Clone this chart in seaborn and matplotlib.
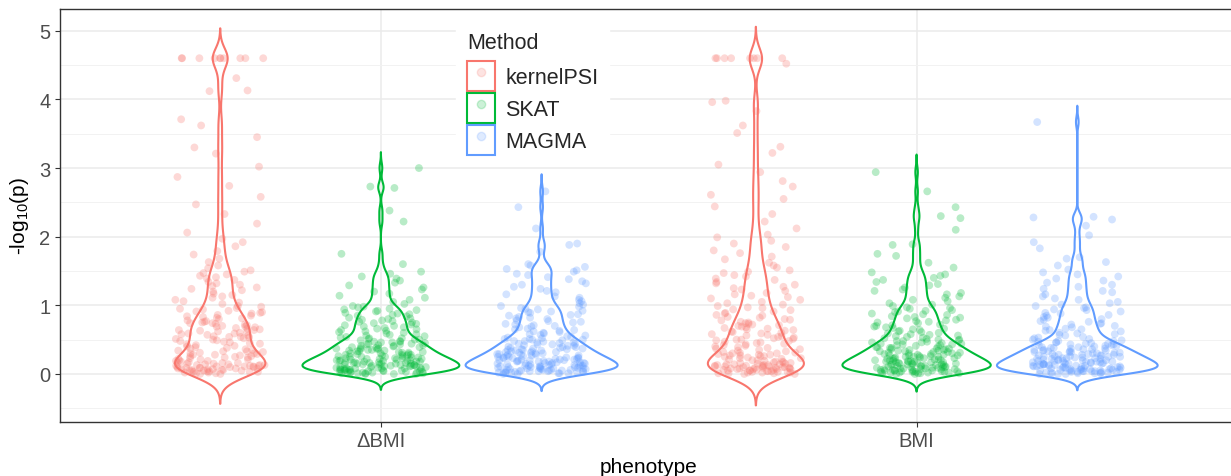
import numpy as np
import pandas as pd
import seaborn as sns
import matplotlib.pyplot as plt
from matplotlib.patches import Patch
from matplotlib.lines import Line2D
from matplotlib.legend_handler import HandlerTuple

phenotypes = ['ΔBMI', 'BMI']
methods = ['kernelPSI', 'SKAT', 'MAGMA']
palette = {'kernelPSI': '#F8766D', 'SKAT': '#00BA38', 'MAGMA': '#619CFF'}

# -log10(p) per gene (kernelPSI capped at 4.6)
kpsi_dbmi = [
    4.6, 4.6, 4.6, 4.6, 4.6, 4.6, 4.6, 4.6, 4.6, 4.6,
    4.31, 4.13, 4.12, 3.71, 3.62, 3.45, 3.30, 3.21, 3.02, 2.87, 2.74, 2.58, 2.47, 2.33, 2.19, 2.06,
    1.97, 1.92, 1.86, 1.79, 1.74, 1.68, 1.63, 1.58, 1.54, 1.51,
    1.49, 1.47, 1.45, 1.43, 1.41, 1.39, 1.37, 1.34, 1.32, 1.30, 1.28, 1.26, 1.24, 1.22, 1.20, 1.17,
    1.15, 1.13, 1.11, 1.08, 1.06, 1.04, 1.02,
    0.99, 0.98, 0.96, 0.95, 0.94, 0.92, 0.91, 0.90, 0.89, 0.88, 0.86, 0.85, 0.84, 0.83, 0.82, 0.81,
    0.80, 0.78, 0.77, 0.76,
    0.75, 0.74, 0.74, 0.73, 0.72, 0.71, 0.70, 0.69, 0.69, 0.68, 0.67, 0.66, 0.65, 0.64, 0.64, 0.63,
    0.62, 0.61, 0.60, 0.59, 0.59, 0.58, 0.57, 0.56, 0.55, 0.54, 0.54, 0.53, 0.52, 0.51,
    0.50, 0.49, 0.48, 0.47, 0.46, 0.45, 0.44, 0.43, 0.42, 0.41, 0.40, 0.39, 0.38, 0.37, 0.36, 0.35,
    0.34, 0.33, 0.33, 0.32, 0.31, 0.30, 0.30, 0.29, 0.28, 0.28, 0.27, 0.26, 0.26,
    0.25, 0.24, 0.24, 0.23, 0.22, 0.21, 0.21, 0.20, 0.19, 0.19, 0.18, 0.17, 0.17, 0.16, 0.16, 0.15,
    0.15, 0.14, 0.14, 0.13, 0.13, 0.13, 0.12, 0.12, 0.12, 0.11, 0.11, 0.11, 0.10, 0.10, 0.10, 0.09,
    0.09, 0.09, 0.08, 0.08, 0.08, 0.07, 0.07, 0.07, 0.06, 0.06, 0.06, 0.05, 0.05, 0.05, 0.04, 0.04,
    0.04, 0.03, 0.03, 0.03, 0.02, 0.02, 0.01, 0.01, 0.00, 0.00,
]
skat_dbmi = [
    3.00, 2.73, 2.71, 2.38, 2.22, 1.75, 1.60,
    1.49, 1.46, 1.42, 1.39, 1.36, 1.33, 1.29, 1.26, 1.23, 1.20, 1.17, 1.14, 1.11, 1.08, 1.05, 1.02,
    0.99, 0.98, 0.97, 0.95, 0.94, 0.93, 0.92, 0.91, 0.89, 0.88, 0.87, 0.86, 0.85,
    0.84, 0.82, 0.81, 0.80, 0.79, 0.78, 0.77, 0.76, 0.75, 0.74, 0.73, 0.72, 0.71, 0.70,
    0.69, 0.68, 0.67, 0.66, 0.65, 0.64, 0.63, 0.62, 0.61, 0.60, 0.59, 0.58, 0.57, 0.56, 0.55,
    0.54, 0.53, 0.52, 0.52, 0.51, 0.50,
    0.00, 0.00, 0.00, 0.01, 0.01, 0.01, 0.01, 0.02, 0.02, 0.02, 0.02, 0.03, 0.03, 0.03, 0.03,
    0.04, 0.04, 0.04, 0.04, 0.05, 0.05,
    0.05, 0.06, 0.06, 0.06, 0.06, 0.07, 0.07, 0.07, 0.08, 0.08, 0.08, 0.08, 0.09, 0.09, 0.09,
    0.10, 0.10, 0.10,
    0.11, 0.11, 0.11, 0.12, 0.12, 0.12, 0.13, 0.13, 0.13, 0.14, 0.14, 0.14, 0.15, 0.15, 0.15, 0.15,
    0.16, 0.16, 0.16, 0.17, 0.17, 0.17, 0.18, 0.18, 0.18, 0.19, 0.19, 0.19, 0.20, 0.20, 0.20,
    0.21, 0.21, 0.22, 0.22, 0.22, 0.23, 0.23, 0.23, 0.24, 0.24, 0.25, 0.25, 0.25,
    0.26, 0.26, 0.27, 0.27, 0.28, 0.28, 0.28, 0.29, 0.29, 0.30, 0.30,
    0.31, 0.31, 0.32, 0.32, 0.33, 0.33, 0.34, 0.34, 0.35, 0.35,
    0.36, 0.36, 0.37, 0.37, 0.38, 0.38, 0.39, 0.39, 0.40,
    0.41, 0.41, 0.42, 0.42, 0.43, 0.43, 0.44, 0.44, 0.45,
    0.46, 0.46, 0.47, 0.47, 0.48, 0.49, 0.50,
]
magma_dbmi = [
    2.66, 2.43, 2.12, 1.90, 1.88, 1.78, 1.60, 1.58, 1.56, 1.53, 1.51,
    1.49, 1.46, 1.44, 1.41, 1.38, 1.35, 1.32, 1.30, 1.27, 1.24, 1.21, 1.19, 1.16, 1.13, 1.11,
    1.08, 1.06, 1.03, 1.01,
    0.99, 0.98, 0.96, 0.95, 0.94, 0.92, 0.91, 0.90, 0.89, 0.87, 0.86, 0.85, 0.83, 0.82, 0.81, 0.80,
    0.78, 0.77, 0.76, 0.75, 0.73, 0.72, 0.71, 0.70, 0.69, 0.68, 0.66,
    0.65, 0.64, 0.63, 0.62, 0.61, 0.60, 0.59, 0.58, 0.57, 0.56, 0.55, 0.54, 0.53, 0.52, 0.51, 0.51, 0.50,
    0.00, 0.00, 0.01, 0.01, 0.01, 0.02, 0.02, 0.02, 0.02, 0.03, 0.03, 0.03, 0.03, 0.04, 0.04,
    0.04, 0.04, 0.04, 0.05, 0.05,
    0.05, 0.06, 0.06, 0.06, 0.06, 0.07, 0.07, 0.07, 0.08, 0.08, 0.08, 0.08, 0.09, 0.09, 0.09,
    0.10, 0.10, 0.10,
    0.11, 0.11, 0.11, 0.12, 0.12, 0.12, 0.12, 0.13, 0.13, 0.13, 0.14, 0.14, 0.14, 0.15, 0.15, 0.15,
    0.16, 0.16, 0.16, 0.17, 0.17, 0.18, 0.18, 0.18, 0.19, 0.19, 0.19, 0.20, 0.20, 0.20,
    0.21, 0.21, 0.21, 0.22, 0.22, 0.23, 0.23, 0.23, 0.24, 0.24, 0.24, 0.25, 0.25,
    0.26, 0.26, 0.27, 0.27, 0.28, 0.28, 0.28, 0.29, 0.29, 0.30, 0.30,
    0.31, 0.31, 0.32, 0.32, 0.33, 0.33, 0.34, 0.34, 0.35, 0.35,
    0.36, 0.36, 0.37, 0.37, 0.38, 0.38, 0.39, 0.39, 0.40,
    0.41, 0.41, 0.42, 0.43, 0.43, 0.44, 0.44, 0.45,
    0.46, 0.46, 0.47, 0.48, 0.48, 0.49, 0.50,
]
kpsi_bmi = [
    4.6, 4.6, 4.6, 4.6, 4.6, 4.6, 4.6, 4.6,
    4.52, 3.98, 3.96, 3.83, 3.62, 3.51, 3.31, 3.22, 3.05, 2.94, 2.81, 2.73, 2.61, 2.55, 2.44, 2.33,
    2.22, 2.12, 2.03,
    1.99, 1.94, 1.90, 1.85, 1.80, 1.76, 1.71, 1.67, 1.62, 1.58, 1.55, 1.51,
    1.49, 1.47, 1.44, 1.42, 1.39, 1.37, 1.34, 1.32, 1.30, 1.27, 1.25, 1.23, 1.21, 1.18, 1.16, 1.14,
    1.12, 1.10, 1.08, 1.05, 1.03, 1.01,
    0.99, 0.97, 0.96, 0.94, 0.93, 0.91, 0.89, 0.88, 0.86, 0.85, 0.83, 0.82, 0.80, 0.79, 0.78, 0.76,
    0.75, 0.74, 0.73, 0.72, 0.71, 0.70, 0.69, 0.68, 0.67, 0.66, 0.65, 0.64, 0.63, 0.62, 0.61, 0.60,
    0.59, 0.58, 0.57, 0.56, 0.55, 0.54, 0.53, 0.52, 0.51, 0.50,
    0.50, 0.49, 0.48, 0.47, 0.46, 0.45, 0.44, 0.43, 0.42, 0.41, 0.40, 0.39, 0.38, 0.37, 0.36, 0.35,
    0.34, 0.33, 0.32, 0.31, 0.31, 0.30, 0.30, 0.29, 0.28, 0.28, 0.27, 0.27, 0.26, 0.26,
    0.25, 0.24, 0.23, 0.23, 0.22, 0.21, 0.20, 0.20, 0.19, 0.18, 0.18, 0.17, 0.17, 0.16, 0.16, 0.15,
    0.15, 0.14, 0.14, 0.14, 0.13, 0.13, 0.13, 0.12, 0.12, 0.12, 0.11, 0.11, 0.11, 0.11, 0.10, 0.10,
    0.10, 0.09, 0.09, 0.09, 0.09, 0.08, 0.08, 0.08, 0.07, 0.07, 0.07, 0.07, 0.06, 0.06, 0.06, 0.05,
    0.05, 0.05, 0.04, 0.04, 0.04, 0.03, 0.03, 0.03, 0.02, 0.02, 0.02, 0.01, 0.01, 0.01, 0.00, 0.00,
]
skat_bmi = [
    2.94, 2.66, 2.43, 2.30, 2.27, 2.10, 1.89, 1.88, 1.75, 1.72, 1.62, 1.55,
    1.48, 1.45, 1.43, 1.40, 1.37, 1.34, 1.31, 1.29, 1.26, 1.23, 1.21, 1.18, 1.16, 1.13, 1.11,
    1.08, 1.06, 1.03, 1.01,
    0.99, 0.97, 0.96, 0.95, 0.93, 0.92, 0.91, 0.90, 0.88, 0.87, 0.86, 0.84, 0.83, 0.82, 0.81,
    0.79, 0.78, 0.77, 0.76, 0.75, 0.74, 0.72, 0.71, 0.70,
    0.69, 0.68, 0.67, 0.66, 0.65, 0.64, 0.63, 0.62, 0.61, 0.60, 0.59, 0.58, 0.57, 0.56, 0.55,
    0.54, 0.53, 0.52, 0.51, 0.50,
    0.00, 0.00, 0.01, 0.01, 0.01, 0.01, 0.02, 0.02, 0.02, 0.02, 0.03, 0.03, 0.03, 0.03, 0.04,
    0.04, 0.04, 0.04, 0.05, 0.05,
    0.05, 0.05, 0.06, 0.06, 0.06, 0.07, 0.07, 0.07, 0.07, 0.08, 0.08, 0.08, 0.09, 0.09, 0.09,
    0.10, 0.10, 0.10,
    0.11, 0.11, 0.11, 0.12, 0.12, 0.12, 0.13, 0.13, 0.13, 0.14, 0.14, 0.14, 0.14, 0.15, 0.15, 0.15,
    0.16, 0.16, 0.17, 0.17, 0.17, 0.18, 0.18, 0.18, 0.19, 0.19, 0.19, 0.20, 0.20, 0.20,
    0.21, 0.21, 0.22, 0.22, 0.23, 0.23, 0.23, 0.24, 0.24, 0.25, 0.25, 0.25,
    0.26, 0.26, 0.27, 0.27, 0.27, 0.28, 0.28, 0.29, 0.29, 0.30, 0.30,
    0.31, 0.31, 0.32, 0.32, 0.33, 0.33, 0.34, 0.34, 0.35, 0.35,
    0.36, 0.36, 0.37, 0.37, 0.38, 0.38, 0.39, 0.39, 0.40,
    0.41, 0.42, 0.42, 0.43, 0.43, 0.44, 0.44, 0.45,
    0.46, 0.46, 0.47, 0.48, 0.48, 0.49, 0.50,
]
magma_bmi = [
    3.67, 2.29, 2.28, 2.25, 2.16, 2.02, 1.92, 1.83, 1.70, 1.68, 1.63, 1.58, 1.52,
    1.48, 1.45, 1.42, 1.39, 1.36, 1.33, 1.30, 1.27, 1.24, 1.21, 1.19, 1.16, 1.13, 1.10, 1.08,
    1.05, 1.03, 1.01,
    0.99, 0.97, 0.96, 0.94, 0.93, 0.91, 0.89, 0.88, 0.86, 0.85, 0.83, 0.82, 0.80, 0.79,
    0.77, 0.76, 0.74, 0.73, 0.72, 0.70, 0.69, 0.68, 0.66, 0.65, 0.64, 0.63,
    0.62, 0.60, 0.59, 0.58, 0.57, 0.56, 0.54, 0.53, 0.52, 0.51,
    0.00, 0.00, 0.00, 0.01, 0.01, 0.01, 0.01, 0.02, 0.02, 0.02, 0.02, 0.03, 0.03, 0.03, 0.03,
    0.04, 0.04, 0.04, 0.04, 0.05, 0.05,
    0.05, 0.05, 0.06, 0.06, 0.06, 0.06, 0.07, 0.07, 0.07, 0.07, 0.08, 0.08, 0.08, 0.09, 0.09,
    0.09, 0.10, 0.10, 0.10,
    0.11, 0.11, 0.11, 0.12, 0.12, 0.12, 0.12, 0.13, 0.13, 0.13, 0.14, 0.14, 0.14, 0.14, 0.15,
    0.15, 0.15,
    0.16, 0.16, 0.16, 0.17, 0.17, 0.17, 0.18, 0.18, 0.18, 0.19, 0.19, 0.19, 0.20, 0.20, 0.20,
    0.21, 0.21, 0.22, 0.22, 0.22, 0.23, 0.23, 0.23, 0.24, 0.24, 0.25, 0.25, 0.25,
    0.26, 0.26, 0.27, 0.27, 0.27, 0.28, 0.28, 0.28, 0.29, 0.29, 0.30, 0.30,
    0.31, 0.31, 0.32, 0.32, 0.32, 0.33, 0.33, 0.34, 0.34, 0.35, 0.35,
    0.36, 0.36, 0.37, 0.37, 0.38, 0.38, 0.39, 0.39, 0.40,
    0.41, 0.41, 0.42, 0.42, 0.43, 0.43, 0.44, 0.44, 0.45,
    0.46, 0.46, 0.47, 0.48, 0.48, 0.49, 0.50,
]

groups = [
    ('ΔBMI', 'kernelPSI', kpsi_dbmi), ('ΔBMI', 'SKAT', skat_dbmi), ('ΔBMI', 'MAGMA', magma_dbmi),
    ('BMI', 'kernelPSI', kpsi_bmi), ('BMI', 'SKAT', skat_bmi), ('BMI', 'MAGMA', magma_bmi),
]
df = pd.concat([pd.DataFrame({'phenotype': ph, 'Method': m, 'logp': v}) for ph, m, v in groups],
               ignore_index=True)

# dodged x position of each point (same spacing as the violins, width 0.9 / 3)
df['xpos'] = (df['phenotype'].map({p: i for i, p in enumerate(phenotypes)})
              + df['Method'].map({m: (j - 1) * 0.3 for j, m in enumerate(methods)}))


def nrd0(kde):
    # R's default bandwidth, as a factor of the data sd
    x = kde.dataset.ravel()
    sd = x.std(ddof=1)
    iqr = np.subtract(*np.percentile(x, [75, 25]))
    return 0.9 * min(sd, iqr / 1.34) * len(x) ** -0.2 / sd


sns.set_theme(style='whitegrid')
plt.rcParams['font.family'] = ['Liberation Sans', 'DejaVu Sans']
plt.rcParams['mathtext.fontset'] = 'custom'
plt.rcParams['mathtext.rm'] = 'Liberation Sans'
plt.rcParams['mathtext.it'] = 'Liberation Sans:italic'

fig = plt.figure(figsize=(12.31, 4.77), dpi=100)
ax = fig.add_axes([59.5 / 1231, 54 / 477, (1238 - 59.5) / 1231, 413 / 477])

np.random.seed(7)
sns.stripplot(data=df, x='xpos', y='logp', hue='Method', hue_order=methods, palette=palette,
              native_scale=True, orient='x', jitter=0.28, size=5.6, alpha=0.28, linewidth=0,
              legend=False, ax=ax, zorder=2)
sns.violinplot(data=df, x='phenotype', y='logp', hue='Method', order=phenotypes,
               hue_order=methods, palette=palette, fill=False, inner=None, width=0.9, cut=3,
               bw_method=nrd0, bw_adjust=0.6, density_norm='area', common_norm=True,
               gridsize=512, linewidth=1.5, legend=False, ax=ax, zorder=3)

ax.set_xlim(-0.6, 1.6)
ax.set_ylim(-0.70, 5.317)
ax.set_xticks([0, 1])
ax.set_xticklabels(phenotypes)
ax.set_yticks(range(6))
ax.set_yticks([-0.5, 0.5, 1.5, 2.5, 3.5, 4.5], minor=True)
ax.grid(True, which='major', color='#EBEBEB', linewidth=1.1, zorder=0)
ax.grid(True, which='minor', axis='y', color='#F2F2F2', linewidth=0.7, zorder=0)
ax.set_axisbelow(True)
for s in ax.spines.values():
    s.set_color('#333333')
    s.set_linewidth(1.0)
ax.spines['right'].set_visible(False)
ax.tick_params(which='major', length=3.5, width=0.8, color='#333333', labelcolor='#4D4D4D',
               labelsize=14.5, pad=3, bottom=True, left=True)
ax.tick_params(which='minor', length=0)
ax.set_xlabel('phenotype', fontsize=15, color='black', labelpad=5)
ax.set_ylabel('-log$_{10}$(p)', fontsize=15, color='black', labelpad=6)

handles = [(Patch(facecolor='white', edgecolor=palette[m], linewidth=1.5),
            Line2D([], [], ls='', marker='o', ms=6, color=palette[m], alpha=0.2))
           for m in methods]
leg = ax.legend(handles, methods, title='Method', handler_map={tuple: HandlerTuple(ndivide=1)},
                loc='upper left', bbox_to_anchor=(456 / 1231, 1 - 22 / 477),
                bbox_transform=fig.transFigure, frameon=True, fancybox=False, framealpha=1,
                facecolor='white', edgecolor='white', fontsize=15.5, title_fontsize=15.5,
                handlelength=1.3, handleheight=1.75, labelspacing=0.1, handletextpad=0.5,
                borderpad=0.5, borderaxespad=0, alignment='left')
leg._legend_box.sep = 6  # a bit more room under the title

fig.savefig('out.png', dpi=100)
